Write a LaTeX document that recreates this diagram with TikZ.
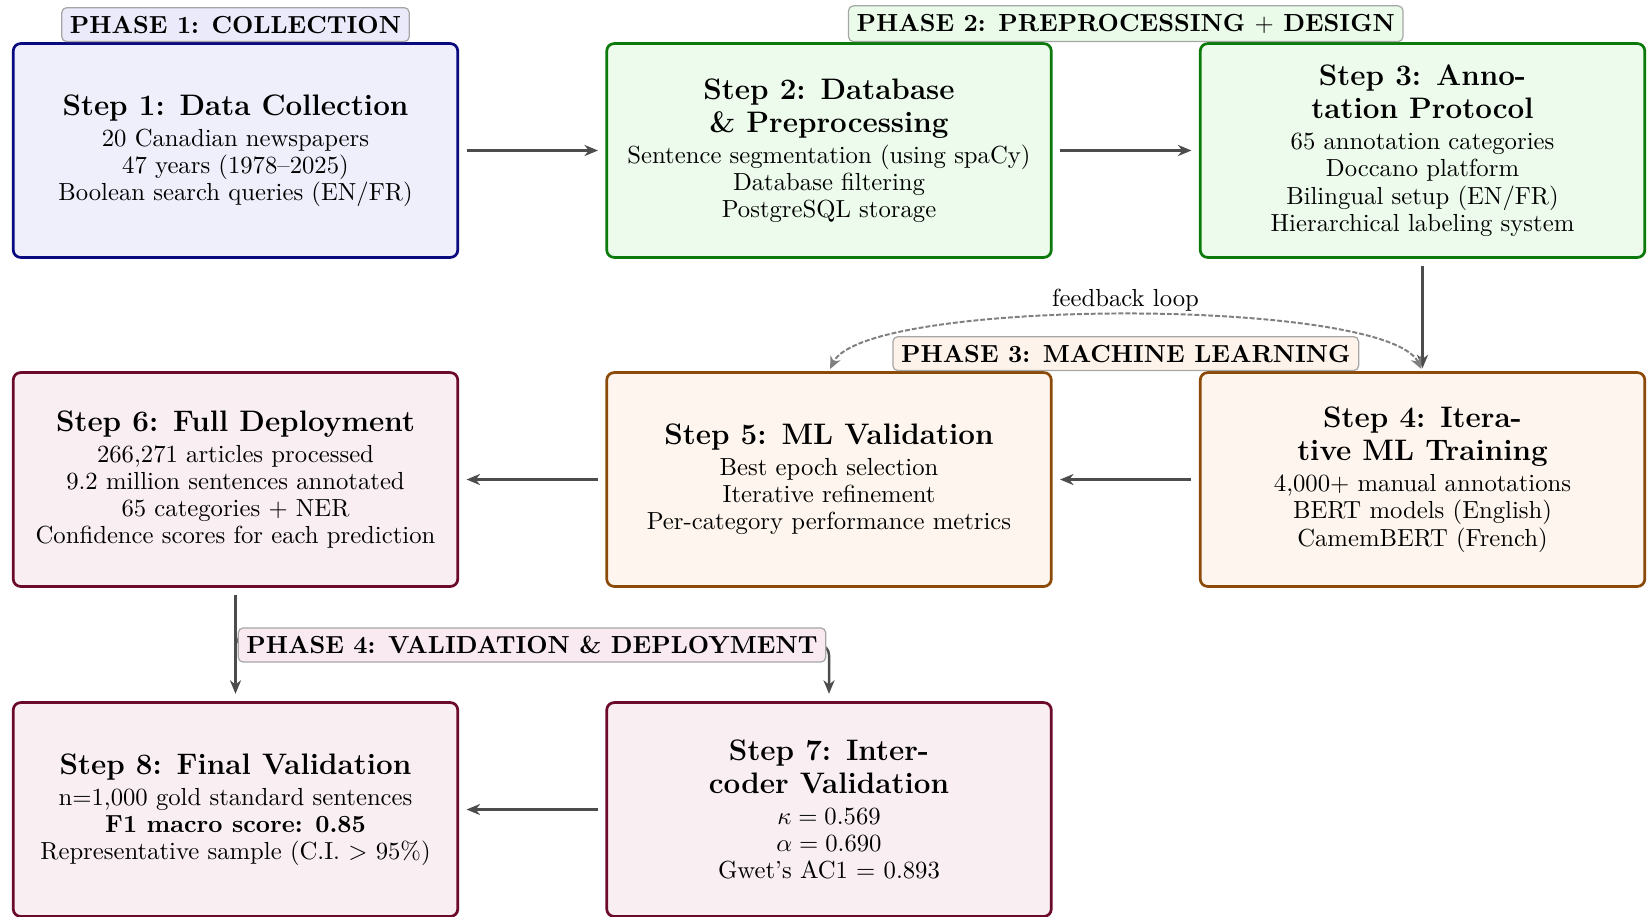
\documentclass[tikz,border=0pt]{standalone}
\usetikzlibrary{arrows.meta,calc}
\definecolor{cAf}{HTML}{EFEFFC}
\definecolor{cAd}{HTML}{0A0A80}
\definecolor{cBf}{HTML}{ECFBEC}
\definecolor{cBd}{HTML}{0B7A0B}
\definecolor{cCf}{HTML}{FEF6EE}
\definecolor{cCd}{HTML}{8B4A08}
\definecolor{cDf}{HTML}{F9EEF2}
\definecolor{cDd}{HTML}{6B0A2A}
\definecolor{pAf}{HTML}{EAEAFB}
\definecolor{pBf}{HTML}{EAFBEA}
\definecolor{pCf}{HTML}{FDF3EA}
\definecolor{pDf}{HTML}{F8EAF0}
\begin{document}
\begin{tikzpicture}[x=0.40494pt,y=-0.40494pt,
  box/.style={line width=1.1pt, rounded corners=3pt, minimum width=180pt,
    minimum height=86.6pt, align=center, inner sep=2pt,
    font=\fontsize{10}{11}\selectfont},
  boxA/.style={box, draw=cAd, fill=cAf},
  boxB/.style={box, draw=cBd, fill=cBf},
  boxC/.style={box, draw=cCd, fill=cCf},
  boxD/.style={box, draw=cDd, fill=cDf},
  phase/.style={draw=black!35, line width=0.5pt, rounded corners=2pt,
    font=\bfseries, inner sep=3.33pt},
  arr/.style={draw=black!70, line width=1pt,
    -{Stealth[length=5.5pt,width=4.5pt]}, shorten <=3pt, shorten >=3pt},
  fb/.style={draw=black!50, line width=0.8pt, dash pattern=on 2pt off 0.8pt,
    {Stealth[length=5pt,width=4.5pt]}-{Stealth[length=5pt,width=4.5pt]},
    shorten <=1pt, shorten >=1pt}
]
\useasboundingbox (0,0) rectangle (1648,916);

% boxes
\node[boxA] (s1) at (235.5,150.5) {{\large\bfseries Step 1: Data Collection}\\[1.5pt]
  20 Canadian newspapers\\ 47 years (1978--2025)\\ Boolean search queries (EN/FR)};
\node[boxB] (s2) at (829,150.5) {{\large\bfseries Step 2: Database}\\[2.5pt]
  {\large\bfseries \& Preprocessing}\\[1.5pt]
  Sentence segmentation (using spaCy)\\ Database filtering\\ PostgreSQL storage};
\node[boxB] (s3) at (1422.5,150.5) {{\large\bfseries Step 3: Anno-}\\[2.5pt]
  {\large\bfseries tation Protocol}\\[1.5pt]
  65 annotation categories\\ Doccano platform\\ Bilingual setup (EN/FR)\\
  Hierarchical labeling system};
\node[boxC] (s4) at (1422.5,479.5) {{\large\bfseries Step 4: Itera-}\\[2.5pt]
  {\large\bfseries tive ML Training}\\[1.5pt]
  4,000$+$ manual annotations\\ BERT models (English)\\ CamemBERT (French)};
\node[boxC] (s5) at (829,479.5) {{\large\bfseries Step 5: ML Validation}\\[1.5pt]
  Best epoch selection\\ Iterative refinement\\ Per-category performance metrics};
\node[boxD] (s6) at (235.5,479.5) {{\large\bfseries Step 6: Full Deployment}\\[1.5pt]
  266,271 articles processed\\ 9.2 million sentences annotated\\
  65 categories $+$ NER\\ Confidence scores for each prediction};
\node[boxD] (s7) at (829,809.5) {{\large\bfseries Step 7: Inter-}\\[2.5pt]
  {\large\bfseries coder Validation}\\[1.5pt]
  $\kappa = 0.569$\\ $\alpha = 0.690$\\ Gwet's AC1 $=$ 0.893};
\node[boxD] (s8) at (235.5,809.5) {{\large\bfseries Step 8: Final Validation}\\[1.5pt]
  n=1,000 gold standard sentences\\ \textbf{F1 macro score: 0.85}\\
  Representative sample (C.I. $>$ 95\%)};

% connectors
\coordinate (j4) at (532,645);
\draw[arr] (s1) -- (s2);
\draw[arr] (s2) -- (s3);
\draw[arr, shorten >=1.2pt] (s3) -- (s4);
\draw[arr] (s4) -- (s5);
\draw[arr] (s5) -- (s6);
\draw[arr] (s6) -- (s8);
\draw[arr] (s7) -- (s8);
\draw[arr, rounded corners=4pt] (s6.south) |- (j4) -| (s7.north);
\draw[fb] (s4.north) .. controls +(-36,-74) and +(36,-74) .. (s5.north);
\node (fbl) at (1125.5,300.5) {feedback loop};

% phase labels
\node[phase, fill=pAf, anchor=south] (p1) at (s1.north) {PHASE 1: COLLECTION};
\node[phase, fill=pBf, anchor=south] (p2) at ($(s2.north)!0.5!(s3.north)$)
  {PHASE 2: PREPROCESSING $+$ DESIGN};
\node[phase, fill=pCf, anchor=south] (p3) at ($(s5.north)!0.5!(s4.north)$)
  {PHASE 3: MACHINE LEARNING};
\node[phase, fill=pDf] (p4) at (j4) {PHASE 4: VALIDATION \& DEPLOYMENT};
\end{tikzpicture}
\end{document}
